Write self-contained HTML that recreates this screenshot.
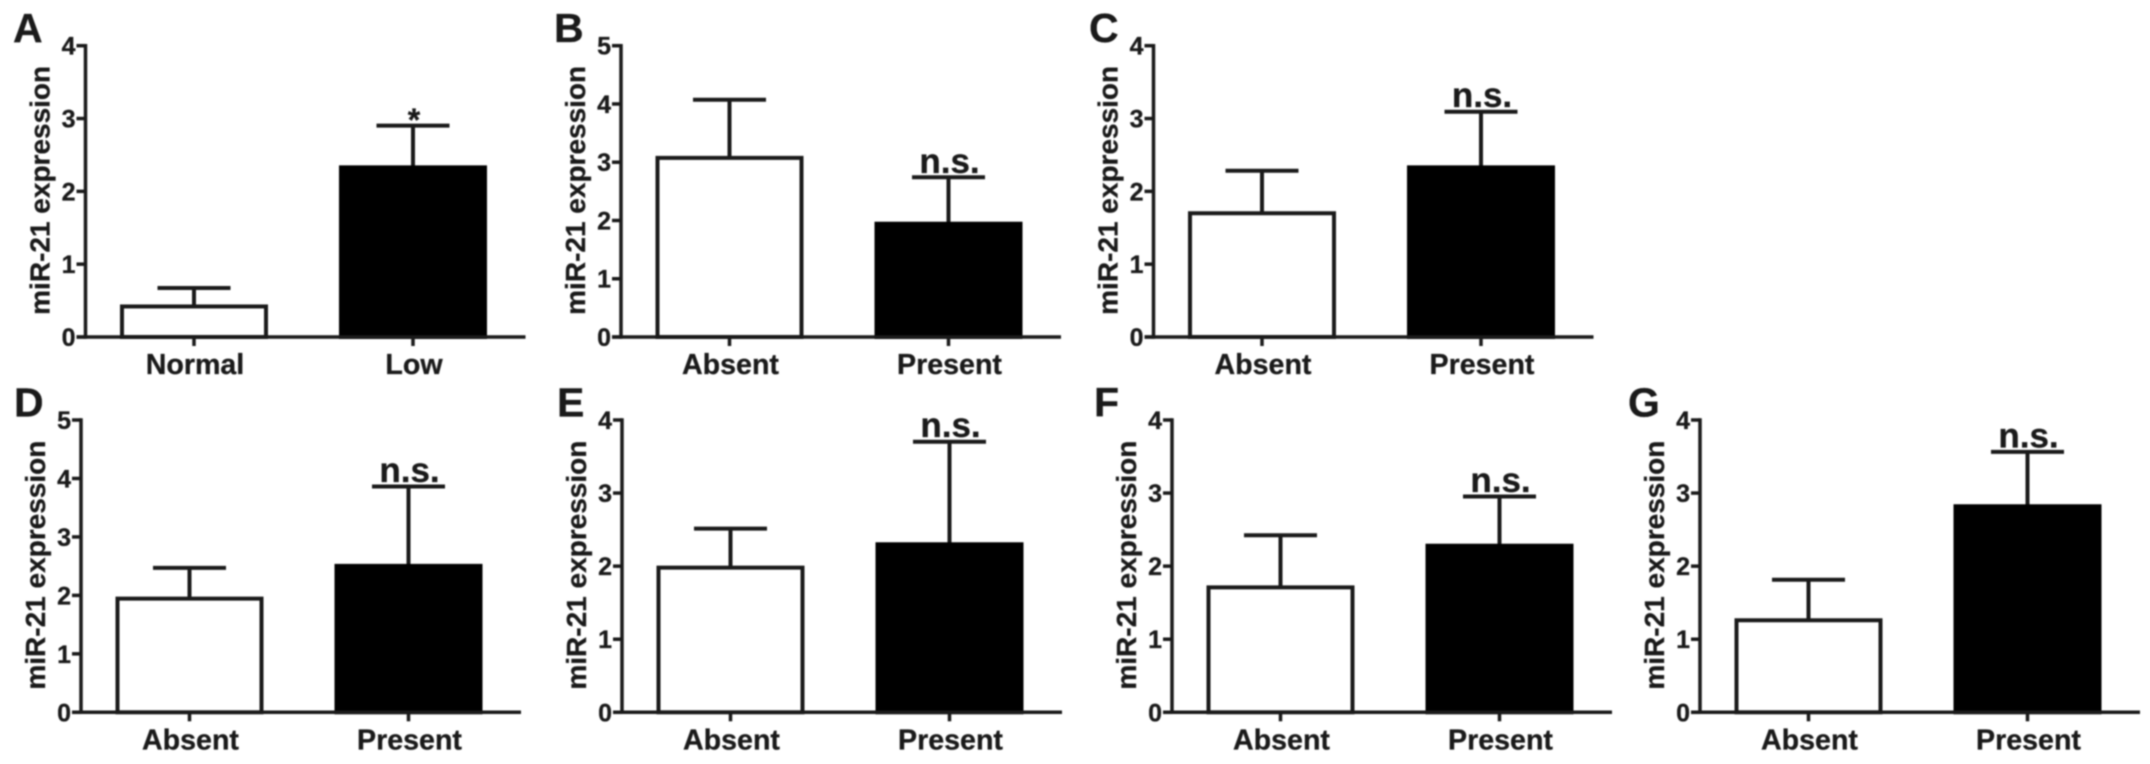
<!DOCTYPE html>
<html lang="en">
<head>
<meta charset="utf-8">
<title>miR-21 expression panels</title>
<style>
html,body{margin:0;padding:0;background:#fff;width:2150px;height:764px;overflow:hidden}
svg{display:block;filter:blur(.7px)}
text{font-family:"Liberation Sans",Arial,sans-serif;font-weight:700;fill:#1a1a1a;stroke:#1a1a1a;stroke-width:.3px}
</style>
</head>
<body>
<svg id="figure" width="2150" height="764" viewBox="0 0 2150 764" xmlns="http://www.w3.org/2000/svg"></svg>
<script>
// Data
const panelLetters = ['A', 'B', 'C', 'D', 'E', 'F', 'G'];
const categoriesA = ['Normal', 'Low'];
const categoriesRest = ['Absent', 'Present'];
const tickLabelsTo4 = ['0', '1', '2', '3', '4'];
const tickLabelsTo5 = ['0', '1', '2', '3', '4', '5'];
const barValuesA = [0.44, 2.35];
const barValuesB = [3.10, 1.97];
const barValuesC = [1.72, 2.35];
const barValuesD = [1.97, 2.53];
const barValuesE = [2.00, 2.32];
const barValuesF = [1.73, 2.30];
const barValuesG = [1.28, 2.84];
const errorTopsA = [0.68, 2.91];
const errorTopsB = [4.08, 2.75];
const errorTopsC = [2.29, 3.10];
const errorTopsD = [2.48, 3.87];
const errorTopsE = [2.52, 3.71];
const errorTopsF = [2.43, 2.96];
const errorTopsG = [1.82, 3.57];
const annotationsAll = ['*', 'n.s.', 'n.s.', 'n.s.', 'n.s.', 'n.s.', 'n.s.'];

// Layout
const panelLayouts = [
  {letterX: 13, axisX: 85.5, top: 45.7, base: 337, row: 0},
  {letterX: 554, axisX: 621, top: 45.7, base: 337, row: 0},
  {letterX: 1089, axisX: 1153.5, top: 45.7, base: 337, row: 0},
  {letterX: 14, axisX: 81, top: 420, base: 712.3, row: 1},
  {letterX: 557, axisX: 622, top: 420, base: 712.3, row: 1},
  {letterX: 1094, axisX: 1172, top: 420, base: 712.3, row: 1},
  {letterX: 1628, axisX: 1700, top: 420, base: 712.3, row: 1}
];
const panelCategories = [categoriesA, categoriesRest, categoriesRest, categoriesRest, categoriesRest, categoriesRest, categoriesRest];
const panelTicks = [tickLabelsTo4, tickLabelsTo5, tickLabelsTo4, tickLabelsTo5, tickLabelsTo4, tickLabelsTo4, tickLabelsTo4];
const panelBars = [barValuesA, barValuesB, barValuesC, barValuesD, barValuesE, barValuesF, barValuesG];
const panelErrors = [errorTopsA, errorTopsB, errorTopsC, errorTopsD, errorTopsE, errorTopsF, errorTopsG];

const SVGNS = 'http://www.w3.org/2000/svg';
const INK = '#1a1a1a';
const root = document.getElementById('figure');

function draw(parent, tag, attrs, content) {
  const node = document.createElementNS(SVGNS, tag);
  for (const key in attrs) node.setAttribute(key, attrs[key]);
  if (content !== undefined) node.textContent = content;
  parent.appendChild(node);
  return node;
}

panelLetters.forEach(function (letter, p) {
  const layout = panelLayouts[p];
  const ticks = panelTicks[p];
  const cats = panelCategories[p];
  const bars = panelBars[p];
  const errs = panelErrors[p];
  const yMax = Number(ticks[ticks.length - 1]);
  const yScale = function (v) { return layout.base - (v / yMax) * (layout.base - layout.top); };
  const xScale = function (i) { return layout.axisX + 108.5 + i * 219; };
  const prefix = 'panel-' + letter.toLowerCase();

  const group = draw(root, 'g', {});
  
  

  const letterEl = draw(group, 'text', {x: layout.letterX, y: layout.row === 0 ? 42 : 416.5, 'font-size': 41}, letter);
  
  

  const yTitle = draw(group, 'text', {
    transform: 'translate(' + (layout.axisX - 36) + ',' + ((layout.top + layout.base) / 2 - 1) + ') rotate(-90)',
    'text-anchor': 'middle', 'font-size': 28
  }, 'miR-21 expression');
  
  

  bars.forEach(function (value, i) {
    const cx = xScale(i);
    const y = yScale(value) + 1.5;
    const cap = yScale(errs[i]) + 0.5;
    const whisker = draw(group, 'line', {x1: cx, x2: cx, y1: y, y2: cap, stroke: INK, 'stroke-width': 4});
    
    
    const capLine = draw(group, 'line', {x1: cx - 36.5, x2: cx + 36.5, y1: cap, y2: cap, stroke: INK, 'stroke-width': 4});
    
    
    const bar = draw(group, 'rect', {
      x: cx - 72, y: y, width: 144, height: layout.base - y,
      fill: i === 0 ? '#fff' : '#000', stroke: i === 0 ? INK : '#000', 'stroke-width': 4
    });
    
    
    const xTick = draw(group, 'line', {x1: cx, x2: cx, y1: layout.base, y2: layout.base + 9, stroke: INK, 'stroke-width': 3.5});
    
    
    const xLabel = draw(group, 'text', {x: cx + 1, y: layout.base + 37, 'text-anchor': 'middle', 'font-size': 28.6}, cats[i]);
    
    
  });

  ticks.forEach(function (label) {
    const y = yScale(Number(label));
    const tick = draw(group, 'line', {x1: layout.axisX - 9, x2: layout.axisX, y1: y, y2: y, stroke: INK, 'stroke-width': 3.5});
    
    
    const tickText = draw(group, 'text', {x: layout.axisX - 10, y: y + 9, 'text-anchor': 'end', 'font-size': 25}, label);
    
    
  });

  const yAxis = draw(group, 'line', {x1: layout.axisX, x2: layout.axisX, y1: layout.top - 1.75, y2: layout.base + 1.75, stroke: INK, 'stroke-width': 3.5});
  
  
  const xAxis = draw(group, 'line', {x1: layout.axisX - 9, x2: layout.axisX + 440, y1: layout.base, y2: layout.base, stroke: INK, 'stroke-width': 3.5});
  
  

  const note = annotationsAll[p];
  const isStar = note === '*';
  const noteEl = draw(group, 'text', {
    x: xScale(1) + 1, y: yScale(errs[1]) + (isStar ? 6 : -4),
    'text-anchor': 'middle', 'font-size': isStar ? 32 : 35
  }, note);
  
  
});
</script>
</body>
</html>
